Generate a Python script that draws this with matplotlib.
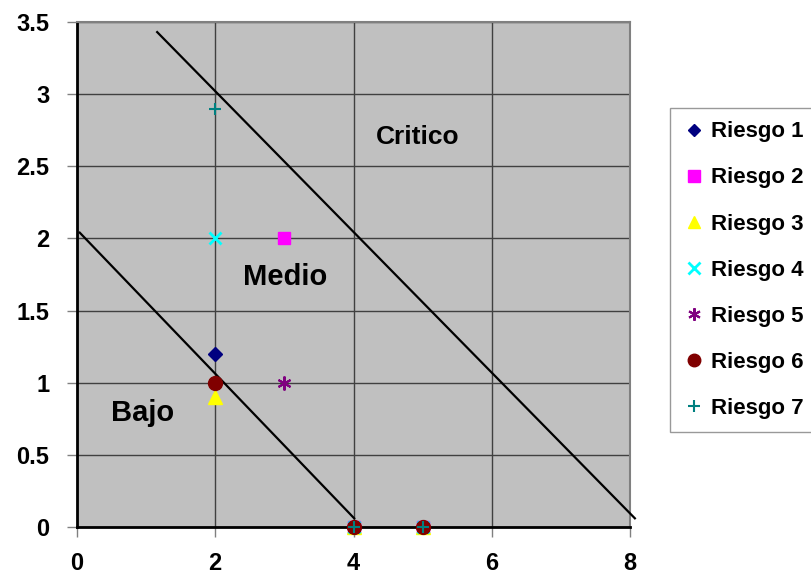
import matplotlib
matplotlib.use('Agg')
from matplotlib import pyplot as plt

# risk points (each series also has the two points sitting on the x axis)
names = ['Riesgo 1', 'Riesgo 2', 'Riesgo 3', 'Riesgo 4', 'Riesgo 5', 'Riesgo 6', 'Riesgo 7']
risk_x = [[2, 4, 5], [3, 4, 5], [2, 4, 5], [2, 4, 5], [3, 4, 5], [2, 4, 5], [2, 4, 5]]
risk_y = [[1.2, 0, 0], [2, 0, 0], [0.9, 0, 0], [2, 0, 0], [1, 0, 0], [1, 0, 0], [2.9, 0, 0]]

# zone boundaries
bajo_x = [0.04, 4.01]
bajo_y = [2.04, 0.06]
critico_x = [1.16, 8.07]
critico_y = [3.43, 0.06]

zone_labels = ['Critico', 'Medio', 'Bajo']
zone_pos = [(4.93, 2.70), (3.01, 1.73), (0.95, 0.79)]
zone_size = [19, 21, 21]

x_ticks = [0, 2, 4, 6, 8]
y_ticks = [0, 0.5, 1, 1.5, 2, 2.5, 3, 3.5]
y_ticklabels = ['0', '0.5', '1', '1.5', '2', '2.5', '3', '3.5']

styles = [
    dict(marker='D', color='#000080', ms=7),
    dict(marker='s', color='#FF00FF', ms=9),
    dict(marker='^', color='#FFFF00', ms=10),
    dict(marker='x', color='#00FFFF', ms=9, mew=2),
    dict(marker=(6, 2, 0), color='#800080', ms=10, mew=1.5),
    dict(marker='o', color='#800000', ms=10),
    dict(marker='+', color='#008080', ms=9, mew=1.5),
]

fig = plt.figure(figsize=(8.12, 5.77), dpi=100)
ax = fig.add_axes([0.0948, 0.0867, 0.6811, 0.8752])
ax.set_facecolor('#C0C0C0')

for i in range(len(names)):
    ax.plot(risk_x[i], risk_y[i], linestyle='none', label=names[i],
            clip_on=False, zorder=5, **styles[i])

ax.plot(bajo_x, bajo_y, color='black', lw=1.6, clip_on=False, zorder=4)
ax.plot(critico_x, critico_y, color='black', lw=1.6, clip_on=False, zorder=4)

for lab, (px, py), fs in zip(zone_labels, zone_pos, zone_size):
    ax.text(px, py, lab, ha='center', va='center', fontsize=fs,
            fontweight='bold', family='Liberation Sans')

ax.set_xlim(0, 8)
ax.set_ylim(0, 3.5)
ax.set_xticks(x_ticks)
ax.set_yticks(y_ticks)
ax.set_xticklabels([str(t) for t in x_ticks])
ax.set_yticklabels(y_ticklabels)
for t in ax.get_xticklabels() + ax.get_yticklabels():
    t.set_fontfamily('Liberation Sans')
    t.set_fontweight('bold')
    t.set_fontsize(17)
ax.tick_params(axis='y', direction='out', length=7, width=1, color='#808080', pad=13)
ax.tick_params(axis='x', direction='out', length=7, width=1, color='#808080', pad=11)
ax.grid(True, color='#404040', lw=1)
ax.set_axisbelow(True)

for s in ['top', 'right']:
    ax.spines[s].set_color('#808080')
    ax.spines[s].set_linewidth(1.5)
for s in ['left', 'bottom']:
    ax.spines[s].set_color('black')
    ax.spines[s].set_linewidth(2)

leg = fig.legend(loc='upper left', bbox_to_anchor=(670 / 812, 1 - 108 / 577),
                 prop=dict(family='Liberation Sans', weight='bold', size=16),
                 frameon=True, fancybox=False, handlelength=1.0, markerscale=0.9,
                 handletextpad=0.25, labelspacing=1.13, borderpad=0.6,
                 borderaxespad=0)
leg.get_frame().set_edgecolor('#808080')
leg.get_frame().set_linewidth(1)

fig.savefig('out.png', dpi=100)
